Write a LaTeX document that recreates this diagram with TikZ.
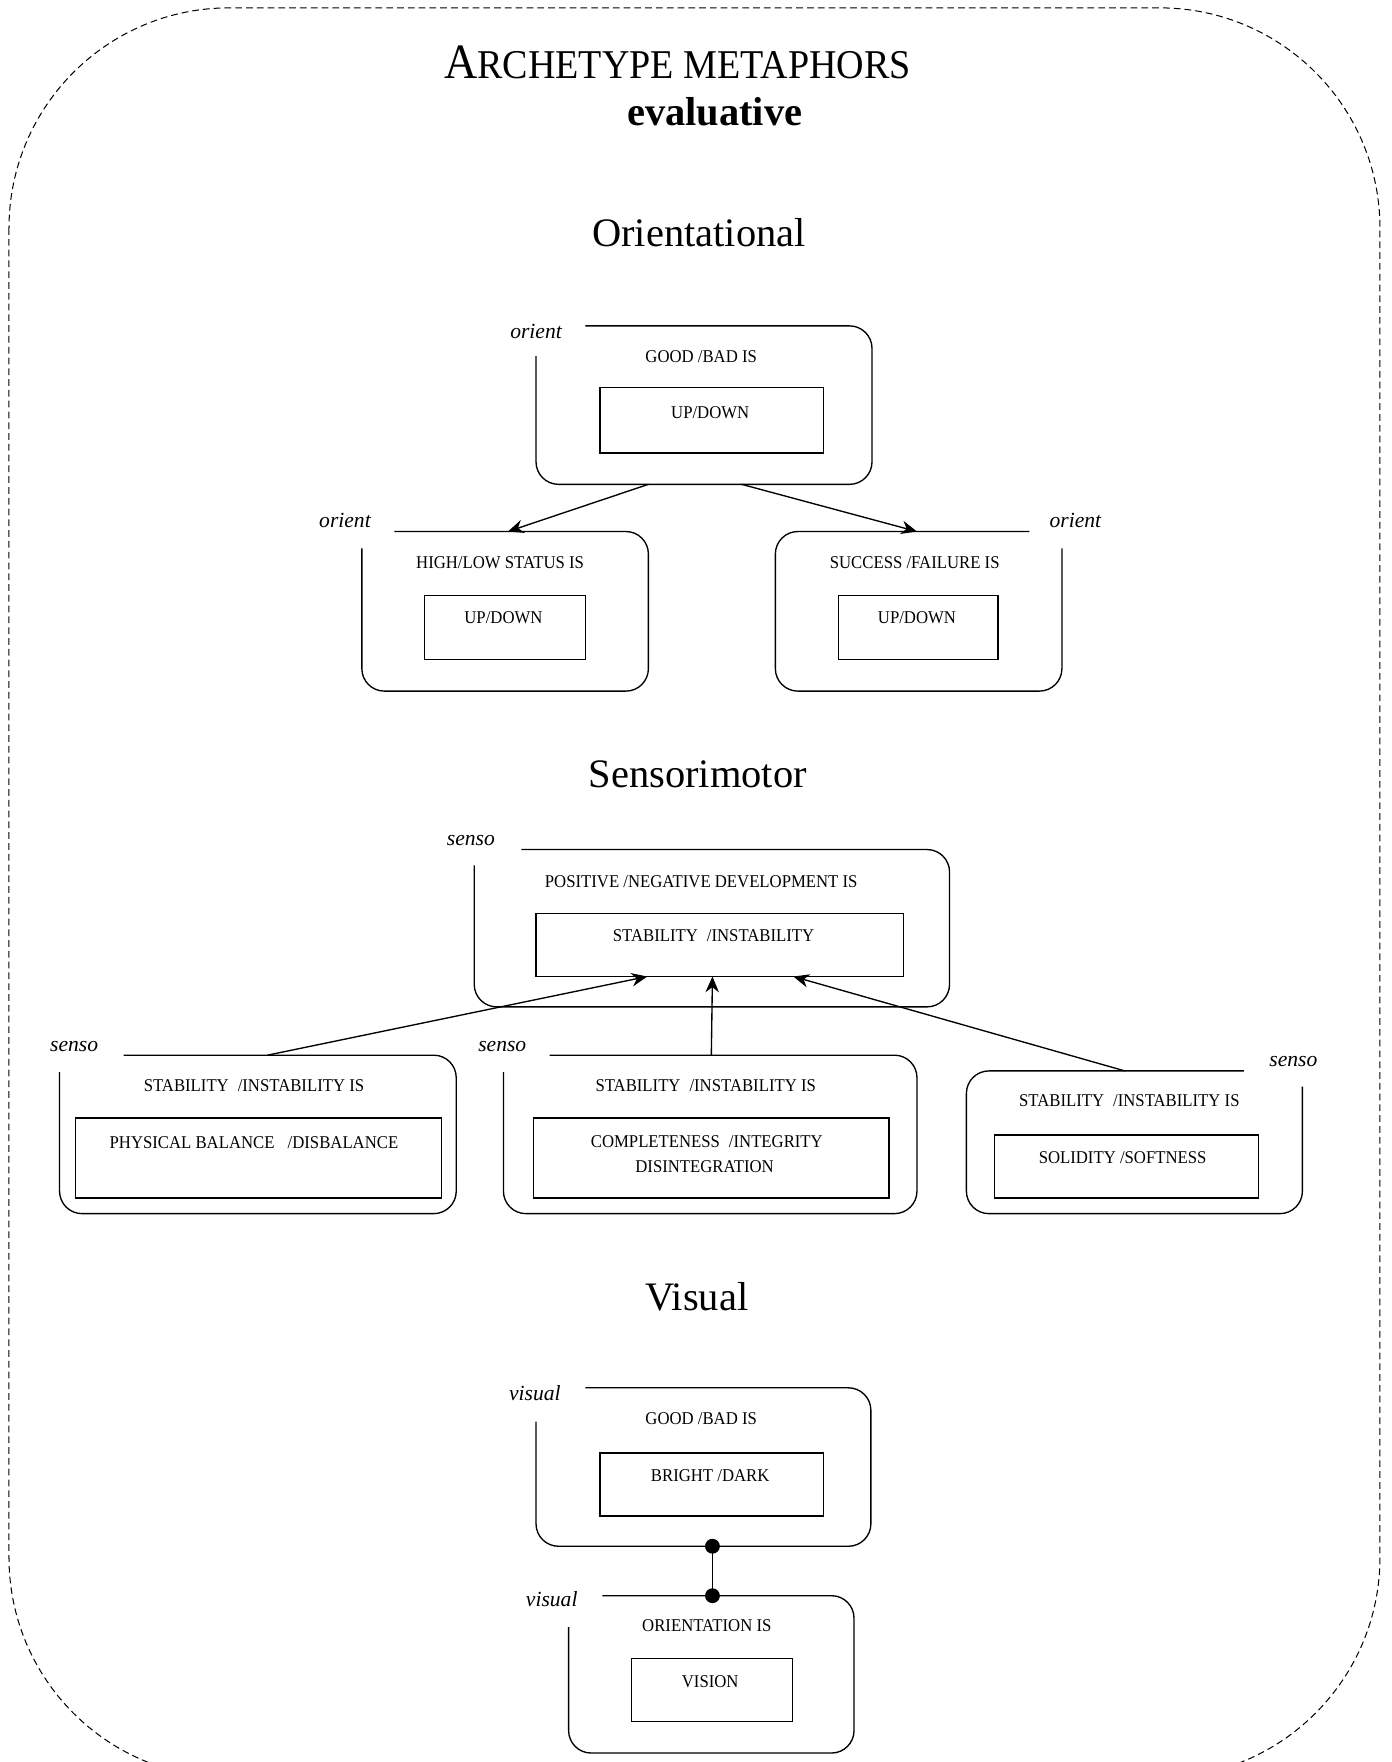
\documentclass[tikz,border=0pt]{standalone}
\usepackage{fontspec}
\setmainfont{Liberation Serif}
\newfontfamily\cnd[FakeStretch=0.93]{Liberation Serif}
\usetikzlibrary{arrows.meta,calc,fit}
\begin{document}
\begin{tikzpicture}[x=0.5pt,y=-0.5pt,
  every node/.style={inner sep=0pt, outer sep=0pt},
  ofit/.style={draw=none, inner sep=0pt},
  ibox/.style={draw, line width=0.6pt, inner sep=0pt},
  oline/.style={line width=0.6pt, rounded corners=10pt},
  boxtext/.style={anchor=base, font=\cnd\fontsize{8}{9.6}\selectfont},
  tag/.style={anchor=base, font=\fontsize{9.6}{11}\selectfont\itshape},
  heading/.style={anchor=base, font=\fontsize{18}{21}\selectfont},
  conn/.style={line width=0.6pt, -{Stealth[length=7pt,width=6pt]}},
]
\useasboundingbox (0,0) rectangle (1238,1568);
\draw[dash pattern=on 3pt off 1.8pt, line width=0.45pt, rounded corners=98pt] (8,7) rectangle (1228,1582);

% titles
\node[anchor=base, font=\cnd\fontsize{18.2}{20}\selectfont] (title) at (603,70) {{\fontsize{22}{24}\selectfont A}RCHETYPE METAPHORS};
\node[anchor=base, font=\fontsize{18}{20}\selectfont\bfseries] (eval) at (636,112) {evaluative};
\node[heading] (h1) at (622,219) {Orientational};
\node[heading] (h2) at (621,701) {Sensorimotor};
\node[heading] (h3) at (620,1166) {Visual};

% ---------- Orientational ----------
\node[ofit, fit={(477,290) (776,431)}] (o1) {};
\draw[oline] ($(o1.north west)+(44,0)$) -- (o1.north east) -- (o1.south east) -- (o1.south west) -- ($(o1.north west)+(0,27)$);
\node[tag] (o1l) at (477,301) {orient};
\node[boxtext] (o1t) at (624,323) {GOOD /BAD IS};
\node[ibox, fit={(534,345) (733,403)}] (o1i) {};
\node[boxtext] (o1it) at (632,372) {UP/DOWN};

\node[ofit, fit={(322,473) (577,615)}] (o2) {};
\draw[oline] ($(o2.north west)+(29,0)$) -- (o2.north east) -- (o2.south east) -- (o2.south west) -- ($(o2.north west)+(0,15)$);
\node[tag] (o2l) at (307,469) {orient};
\node[boxtext] (o2t) at (445,506) {HIGH/LOW STATUS IS};
\node[ibox, fit={(378,530) (521,587)}] (o2i) {};
\node[boxtext] (o2it) at (448,555) {UP/DOWN};

\node[ofit, fit={(690,473) (945,615)}] (o3) {};
\draw[oline] ($(o3.north east)+(-29,0)$) -- (o3.north west) -- (o3.south west) -- (o3.south east) -- ($(o3.north east)+(0,15)$);
\node[tag] (o3l) at (957,469) {orient};
\node[boxtext] (o3t) at (814,506) {SUCCESS /FAILURE IS};
\node[ibox, fit={(746,530) (888,587)}] (o3i) {};
\node[boxtext] (o3it) at (816,555) {UP/DOWN};

\draw[conn] ($(o1.south west)+(100,0)$) -- ($(o2.north west)+(130,0)$);
\draw[conn] ($(o1.south west)+(183,0)$) -- ($(o3.north west)+(126,0)$);

% ---------- Sensorimotor ----------
\node[ofit, fit={(422,756) (845,896)}] (s1) {};
\draw[oline] ($(s1.north west)+(42,0)$) -- (s1.north east) -- (s1.south east) -- (s1.south west) -- ($(s1.north west)+(0,14)$);
\node[tag] (s1l) at (419,752) {senso};
\node[boxtext] (s1t) at (624,790) {POSITIVE /NEGATIVE DEVELOPMENT IS};
\node[ibox, fit={(477,813) (804,869)}] (s1i) {};
\node[boxtext] (s1it) at (635,838) {STABILITY\enspace/INSTABILITY};

\node[ofit, fit={(53,939) (406,1080)}] (s2) {};
\draw[oline] ($(s2.north west)+(57,0)$) -- (s2.north east) -- (s2.south east) -- (s2.south west) -- ($(s2.north west)+(0,15)$);
\node[tag] (s2l) at (66,936) {senso};
\node[boxtext] (s2t) at (226,971) {STABILITY\enspace/INSTABILITY IS};
\node[ibox, fit={(67,995) (393,1066)}] (s2i) {};
\node[boxtext] (s2it) at (226,1022) {PHYSICAL BALANCE\enspace\ /DISBALANCE};

\node[ofit, fit={(448,939) (816,1080)}] (s3) {};
\draw[oline] ($(s3.north west)+(41,0)$) -- (s3.north east) -- (s3.south east) -- (s3.south west) -- ($(s3.north west)+(0,15)$);
\node[tag] (s3l) at (447,936) {senso};
\node[boxtext] (s3t) at (628,971) {STABILITY\enspace/INSTABILITY IS};
\node[ibox, fit={(475,995) (791,1066)}] (s3i) {};
\node[boxtext] (s3it) at (629,1021) {COMPLETENESS\enspace/INTEGRITY};
\node[boxtext] (s3it2) at (627,1043) {DISINTEGRATION};

\node[ofit, fit={(860,953) (1159,1080)}] (s4) {};
\draw[oline] ($(s4.north east)+(-52,0)$) -- (s4.north west) -- (s4.south west) -- (s4.south east) -- ($(s4.north east)+(0,14)$);
\node[tag] (s4l) at (1151,949) {senso};
\node[boxtext] (s4t) at (1005,985) {STABILITY\enspace/INSTABILITY IS};
\node[ibox, fit={(885,1010) (1120,1066)}] (s4i) {};
\node[boxtext] (s4it) at (999,1035) {SOLIDITY /SOFTNESS};

\draw[conn] ($(s2.north west)+(185,0)$) -- ($(s1i.south west)+(99,0)$);
\draw[conn] ($(s3.north west)+(185,0)$) -- ($(s1i.south west)+(157,0)$);
\draw[conn] ($(s4.north west)+(141,0)$) -- ($(s1i.south west)+(229,0)$);

% ---------- Visual ----------
\node[ofit, fit={(477,1235) (775,1376)}] (v1) {};
\draw[oline] ($(v1.north west)+(44,0)$) -- (v1.north east) -- (v1.south east) -- (v1.south west) -- ($(v1.north west)+(0,30)$);
\node[tag] (v1l) at (476,1246) {visual};
\node[boxtext] (v1t) at (624,1268) {GOOD /BAD IS};
\node[ibox, fit={(534,1293) (733,1349)}] (v1i) {};
\node[boxtext] (v1it) at (632,1318) {BRIGHT /DARK};

\node[ofit, fit={(506,1420) (760,1560)}] (v2) {};
\draw[oline] ($(v2.north west)+(30,0)$) -- (v2.north east) -- (v2.south east) -- (v2.south west) -- ($(v2.north west)+(0,28)$);
\node[tag] (v2l) at (491,1430) {visual};
\node[boxtext] (v2t) at (629,1452) {ORIENTATION IS};
\node[ibox, fit={(562,1476) (705,1532)}] (v2i) {};
\node[boxtext] (v2it) at (632,1502) {VISION};

\coordinate (d1) at ($(v1.south west)+(157,0)$);
\coordinate (d2) at ($(v2.north west)+(128,0)$);
\draw[line width=0.6pt] (d1) -- (d2);
\fill (d1) circle (3.3pt);
\fill (d2) circle (3.3pt);
\end{tikzpicture}
\end{document}
